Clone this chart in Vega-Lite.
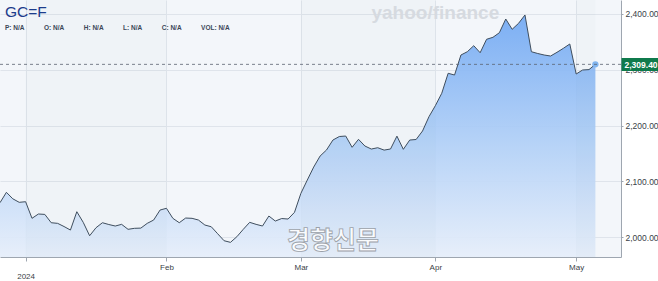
{
  "$schema": "https://vega.github.io/schema/vega-lite/v6.json",
  "width": 621,
  "height": 257,
  "autosize": "none",
  "padding": {"left": 0, "top": 0, "right": 37, "bottom": 24},
  "background": "white",
  "config": {"view": {"fill": "#f3f6fa", "stroke": null}, "font": "Liberation Sans"},
  "title": {
    "text": "GC=F",
    "subtitle": "P: N/A\u2003\u2003\u2003O: N/A\u2003\u2003\u2003H: N/A\u2003\u2003\u2003L: N/A\u2003\u2003\u2003C: N/A\u2003\u2003\u2003VOL: N/A",
    "anchor": "start",
    "frame": "group",
    "orient": "top",
    "offset": -31,
    "dx": 5,
    "font": "Liberation Sans",
    "fontSize": 15.5,
    "fontWeight": "normal",
    "color": "#1c3c8c",
    "subtitleFont": "Liberation Sans",
    "subtitleFontSize": 6.5,
    "subtitleFontWeight": "bold",
    "subtitleColor": "#3b4758",
    "subtitlePadding": 4
  },
  "datasets": {
    "gold": [
      {"date": "2023-12-26", "price": 2061.9},
      {"date": "2023-12-27", "price": 2080.5},
      {"date": "2023-12-28", "price": 2068.9},
      {"date": "2023-12-29", "price": 2062.6},
      {"date": "2024-01-02", "price": 2063.7},
      {"date": "2024-01-03", "price": 2034.0},
      {"date": "2024-01-04", "price": 2041.7},
      {"date": "2024-01-05", "price": 2041.0},
      {"date": "2024-01-08", "price": 2026.1},
      {"date": "2024-01-09", "price": 2025.0},
      {"date": "2024-01-10", "price": 2019.3},
      {"date": "2024-01-11", "price": 2013.0},
      {"date": "2024-01-12", "price": 2045.8},
      {"date": "2024-01-15", "price": 2026.8},
      {"date": "2024-01-16", "price": 2002.8},
      {"date": "2024-01-17", "price": 2017.2},
      {"date": "2024-01-18", "price": 2026.1},
      {"date": "2024-01-19", "price": 2022.9},
      {"date": "2024-01-22", "price": 2020.2},
      {"date": "2024-01-23", "price": 2023.2},
      {"date": "2024-01-24", "price": 2014.3},
      {"date": "2024-01-25", "price": 2016.1},
      {"date": "2024-01-26", "price": 2016.5},
      {"date": "2024-01-29", "price": 2025.0},
      {"date": "2024-01-30", "price": 2030.9},
      {"date": "2024-01-31", "price": 2048.8},
      {"date": "2024-02-01", "price": 2051.9},
      {"date": "2024-02-02", "price": 2034.0},
      {"date": "2024-02-05", "price": 2026.1},
      {"date": "2024-02-06", "price": 2034.5},
      {"date": "2024-02-07", "price": 2034.0},
      {"date": "2024-02-08", "price": 2030.9},
      {"date": "2024-02-09", "price": 2022.0},
      {"date": "2024-02-12", "price": 2018.9},
      {"date": "2024-02-13", "price": 2006.4},
      {"date": "2024-02-14", "price": 1993.9},
      {"date": "2024-02-15", "price": 1991.0},
      {"date": "2024-02-16", "price": 2001.1},
      {"date": "2024-02-19", "price": 2014.3},
      {"date": "2024-02-20", "price": 2026.8},
      {"date": "2024-02-21", "price": 2023.2},
      {"date": "2024-02-22", "price": 2020.2},
      {"date": "2024-02-23", "price": 2038.1},
      {"date": "2024-02-26", "price": 2029.1},
      {"date": "2024-02-27", "price": 2033.6},
      {"date": "2024-02-28", "price": 2032.7},
      {"date": "2024-02-29", "price": 2044.7},
      {"date": "2024-03-01", "price": 2078.7},
      {"date": "2024-03-04", "price": 2102.5},
      {"date": "2024-03-05", "price": 2125.7},
      {"date": "2024-03-06", "price": 2145.4},
      {"date": "2024-03-07", "price": 2156.2},
      {"date": "2024-03-08", "price": 2174.0},
      {"date": "2024-03-11", "price": 2180.3},
      {"date": "2024-03-12", "price": 2181.2},
      {"date": "2024-03-13", "price": 2161.0},
      {"date": "2024-03-14", "price": 2175.3},
      {"date": "2024-03-15", "price": 2163.3},
      {"date": "2024-03-18", "price": 2157.9},
      {"date": "2024-03-19", "price": 2160.3},
      {"date": "2024-03-20", "price": 2156.0},
      {"date": "2024-03-21", "price": 2158.0},
      {"date": "2024-03-22", "price": 2181.0},
      {"date": "2024-03-25", "price": 2157.4},
      {"date": "2024-03-26", "price": 2174.0},
      {"date": "2024-03-27", "price": 2175.0},
      {"date": "2024-03-28", "price": 2190.2},
      {"date": "2024-03-29", "price": 2215.7},
      {"date": "2024-04-01", "price": 2235.4},
      {"date": "2024-04-02", "price": 2257.6},
      {"date": "2024-04-03", "price": 2293.4},
      {"date": "2024-04-04", "price": 2290.3},
      {"date": "2024-04-05", "price": 2326.1},
      {"date": "2024-04-08", "price": 2332.0},
      {"date": "2024-04-09", "price": 2342.8},
      {"date": "2024-04-10", "price": 2330.2},
      {"date": "2024-04-11", "price": 2354.2},
      {"date": "2024-04-12", "price": 2357.8},
      {"date": "2024-04-15", "price": 2366.0},
      {"date": "2024-04-16", "price": 2390.5},
      {"date": "2024-04-17", "price": 2372.1},
      {"date": "2024-04-18", "price": 2382.8},
      {"date": "2024-04-19", "price": 2397.7},
      {"date": "2024-04-22", "price": 2332.0},
      {"date": "2024-04-23", "price": 2328.8},
      {"date": "2024-04-24", "price": 2326.1},
      {"date": "2024-04-25", "price": 2324.3},
      {"date": "2024-04-26", "price": 2330.9},
      {"date": "2024-04-29", "price": 2338.1},
      {"date": "2024-04-30", "price": 2345.8},
      {"date": "2024-05-01", "price": 2292.1},
      {"date": "2024-05-02", "price": 2299.3},
      {"date": "2024-05-03", "price": 2300.0},
      {"date": "2024-05-06", "price": 2309.4}
    ],
    "months": [
      {"month": "Jan", "start": "2024-01-02", "end": "2024-02-01"},
      {"month": "Mar", "start": "2024-03-01", "end": "2024-04-01"},
      {"month": "May", "start": "2024-05-01", "end": "2024-05-06"}
    ],
    "watermarks": [
      {"label": "yahoo/finance", "date": "2024-04-01", "level": 2402},
      {"label": "경향신문", "date": "2024-03-08", "level": 1993}
    ]
  },
  "layer": [
    {
      "layer": [
        {
          "data": {"name": "gold"},
          "mark": {
            "type": "area",
            "fillOpacity": 0.92,
            "fill": {
              "gradient": "linear",
              "x1": 0, "y1": 0, "x2": 0, "y2": 1,
              "stops": [
                {"offset": 0, "color": "#72a9f3"},
                {"offset": 0.55, "color": "#b3d1f7"},
                {"offset": 1, "color": "#e6eefa"}
              ]
            }
          },
          "encoding": {
            "x": {
              "field": "date",
              "type": "ordinal",
              "sort": null,
              "scale": {
                "type": "point",
                "padding": 0,
                "domain": ["2023-12-26","2023-12-27","2023-12-28","2023-12-29",
                  "2024-01-02","2024-01-03","2024-01-04","2024-01-05","2024-01-08","2024-01-09","2024-01-10","2024-01-11","2024-01-12","2024-01-15","2024-01-16","2024-01-17","2024-01-18","2024-01-19","2024-01-22","2024-01-23","2024-01-24","2024-01-25","2024-01-26","2024-01-29","2024-01-30","2024-01-31",
                  "2024-02-01","2024-02-02","2024-02-05","2024-02-06","2024-02-07","2024-02-08","2024-02-09","2024-02-12","2024-02-13","2024-02-14","2024-02-15","2024-02-16","2024-02-19","2024-02-20","2024-02-21","2024-02-22","2024-02-23","2024-02-26","2024-02-27","2024-02-28","2024-02-29",
                  "2024-03-01","2024-03-04","2024-03-05","2024-03-06","2024-03-07","2024-03-08","2024-03-11","2024-03-12","2024-03-13","2024-03-14","2024-03-15","2024-03-18","2024-03-19","2024-03-20","2024-03-21","2024-03-22","2024-03-25","2024-03-26","2024-03-27","2024-03-28","2024-03-29",
                  "2024-04-01","2024-04-02","2024-04-03","2024-04-04","2024-04-05","2024-04-08","2024-04-09","2024-04-10","2024-04-11","2024-04-12","2024-04-15","2024-04-16","2024-04-17","2024-04-18","2024-04-19","2024-04-22","2024-04-23","2024-04-24","2024-04-25","2024-04-26","2024-04-29","2024-04-30",
                  "2024-05-01","2024-05-02","2024-05-03","2024-05-06","2024-05-07","2024-05-08","2024-05-09","2024-05-10"]
              },
              "axis": {
                "values": ["2024-01-02", "2024-02-01", "2024-03-01", "2024-04-01", "2024-05-01"],
                "labelExpr": "datum.value == '2024-01-02' ? ['', '2024'] : datum.value == '2024-02-01' ? 'Feb' : datum.value == '2024-03-01' ? 'Mar' : datum.value == '2024-04-01' ? 'Apr' : 'May'",
                "title": null,
                "grid": true,
                "gridColor": "#dfe4eb",
                "domainColor": "#9ea6b0",
                "tickColor": "#9ea6b0",
                "tickSize": 4,
                "labelFontSize": 8,
                "labelColor": "#3a3f47",
                "labelPadding": 2,
                "labelAngle": 0,
                "labelLineHeight": 9,
                "labelOverlap": false,
                "labelBaseline": "top"
              }
            },
            "y": {
              "field": "price",
              "type": "quantitative",
              "scale": {"domain": [1964.8, 2424.5], "nice": false, "zero": false},
              "axis": {
                "orient": "right",
                "values": [2000, 2050, 2100, 2150, 2200, 2250, 2300, 2350, 2400],
                "format": ",.2f",
                "title": null,
                "grid": true,
                "gridColor": "#dfe4eb",
                "domainColor": "#9ea6b0",
                "tickColor": "#9ea6b0",
                "tickSize": 2,
                "labelFontSize": 8.5,
                "labelColor": "#3a3f47",
                "labelPadding": 2,
                "offset": 0
              }
            },
            "y2": {"datum": 1964.8}
          }
        },
        {
          "data": {"name": "months"},
          "mark": {"type": "rect", "color": "#5a6e8c", "opacity": 0.025},
          "encoding": {
            "x": {"field": "start", "type": "ordinal", "sort": null},
            "x2": {"field": "end"}
          }
        },
        {
          "data": {"name": "gold"},
          "mark": {"type": "line", "color": "#3f4e5e", "strokeWidth": 1},
          "encoding": {
            "x": {"field": "date", "type": "ordinal", "sort": null},
            "y": {"field": "price", "type": "quantitative"}
          }
        },
        {
          "data": {"name": "gold"},
          "transform": [{"filter": "datum.date == '2024-05-06'"}],
          "mark": {"type": "point", "filled": true, "color": "#82b5ef", "size": 40, "opacity": 1},
          "encoding": {
            "x": {"field": "date", "type": "ordinal", "sort": null},
            "y": {"field": "price", "type": "quantitative"}
          }
        },
        {
          "data": {"name": "watermarks"},
          "transform": [{"filter": "datum.label == 'yahoo/finance'"}],
          "mark": {"type": "text", "font": "Liberation Sans", "fontSize": 19, "fontWeight": "bold", "color": "#d6dae0", "align": "center", "baseline": "middle"},
          "encoding": {
            "x": {"field": "date", "type": "ordinal", "sort": null},
            "y": {"field": "level", "type": "quantitative"},
            "text": {"field": "label"}
          }
        },
        {
          "data": {"name": "watermarks"},
          "transform": [{"filter": "datum.label == '경향신문'"}],
          "mark": {"type": "text", "font": "Noto Sans CJK KR", "fontSize": 25, "fontWeight": "bold", "color": "#ffffff", "fillOpacity": 0.85, "stroke": "#9aa0a8", "strokeWidth": 0.8, "align": "center", "baseline": "middle"},
          "encoding": {
            "x": {"field": "date", "type": "ordinal", "sort": null},
            "y": {"field": "level", "type": "quantitative"},
            "text": {"field": "label"}
          }
        }
      ]
    },
    {
      "data": {"name": "gold"},
      "transform": [{"filter": "datum.date == '2024-05-06'"}],
      "mark": {"type": "rule", "color": "#5a6270", "strokeDash": [3, 3], "strokeWidth": 0.8},
      "encoding": {
        "y": {
          "field": "price",
          "type": "quantitative",
          "scale": {"domain": [1964.8, 2424.5], "nice": false, "zero": false},
          "axis": {
            "orient": "right",
            "values": [2309.4],
            "format": ",.2f",
            "title": null,
            "grid": false,
            "domain": false,
            "ticks": true,
            "tickSize": 38,
            "tickWidth": 13,
            "tickCap": "butt",
            "tickColor": "#0f7a4c",
            "labelPadding": -35,
            "labelColor": "#ffffff",
            "labelFontWeight": "bold",
            "labelFontSize": 8.5,
            "labelAlign": "left",
            "labelBound": false,
            "labelOverlap": false,
            "offset": 0,
            "zindex": 2
          }
        }
      }
    }
  ],
  "resolve": {"scale": {"y": "independent"}}
}
